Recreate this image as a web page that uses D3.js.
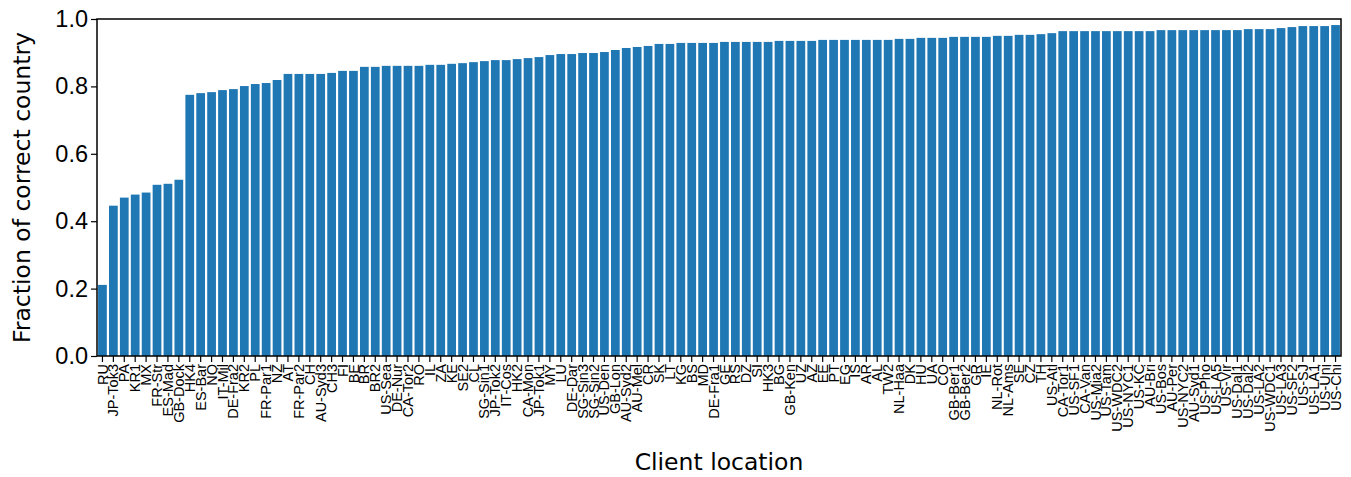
<!DOCTYPE html>
<html>
<head>
<meta charset="utf-8">
<script src="https://cdn.jsdelivr.net/npm/d3@7"></script>
<style>
  body { margin: 0; background: #fff; }
  svg { font-family: "DejaVu Sans", sans-serif; }
</style>
</head>
<body>
<div id="chart"></div>
<script>
// Client locations, sorted by fraction
const locations = [
  "RU", "JP-Tok3", "PA", "KR1", "MX", "FR-Str", "ES-Mad", "GB-Dock", "HK4", "ES-Bar",
  "NO", "IT-Mil", "DE-Fra2", "KR2", "PL", "FR-Par1", "NZ", "AT", "FR-Par2", "CH",
  "AU-Syd3", "CH3", "FI", "BE", "BR", "BR2", "US-Sea", "DE-Nur", "CA-Tor2", "RO",
  "IL", "ZA", "KE", "SE2", "CL", "SG-Sin1", "JP-Tok2", "IT-Cos", "HK2", "CA-Mon",
  "JP-Tok1", "MY", "LU", "DE-Dar", "SG-Sin3", "SG-Sin2", "US-Den", "GB-Lon", "AU-Syd2", "AU-Mel",
  "CR", "SK", "LT", "KG", "BS", "MD", "DE-Fra1", "GE", "RS", "DZ",
  "SI", "HK3", "BG", "GB-Ken", "UZ", "AZ", "EE", "PT", "EG", "IS",
  "AR", "AL", "TW2", "NL-Haa", "DK", "HU", "UA", "CO", "GB-Ber1", "GB-Ber2",
  "GR", "IE", "NL-Rot", "NL-Ams", "SE", "CZ", "TH", "US-Atl", "CA-Tor1", "US-SF1",
  "CA-Van", "US-Mia2", "US-Tam", "US-WDC2", "US-NYC1", "US-KC", "AU-Bri", "US-Bos", "AU-Per", "US-NYC2",
  "AU-Syd1", "US-Pho", "US-LA5", "US-Vir", "US-Dal1", "US-Dal2", "US-LA2", "US-WDC1", "US-LA3", "US-SF2",
  "US-SJ", "US-LA1", "US-Uni", "US-Chi"
];

const fractions = [
  0.211, 0.446, 0.470, 0.479, 0.485, 0.508, 0.511, 0.523, 0.775, 0.780,
  0.783, 0.789, 0.792, 0.801, 0.807, 0.810, 0.819, 0.837, 0.837, 0.837,
  0.837, 0.840, 0.846, 0.846, 0.858, 0.858, 0.861, 0.861, 0.861, 0.861,
  0.864, 0.864, 0.867, 0.869, 0.872, 0.875, 0.878, 0.878, 0.881, 0.884,
  0.887, 0.893, 0.896, 0.896, 0.899, 0.899, 0.902, 0.908, 0.914, 0.917,
  0.920, 0.926, 0.926, 0.929, 0.929, 0.929, 0.929, 0.932, 0.932, 0.932,
  0.932, 0.932, 0.935, 0.935, 0.935, 0.935, 0.938, 0.938, 0.938, 0.938,
  0.938, 0.938, 0.938, 0.941, 0.941, 0.944, 0.944, 0.944, 0.947, 0.947,
  0.947, 0.947, 0.950, 0.950, 0.953, 0.953, 0.955, 0.958, 0.964, 0.964,
  0.964, 0.964, 0.964, 0.964, 0.964, 0.964, 0.964, 0.967, 0.967, 0.967,
  0.967, 0.967, 0.967, 0.967, 0.967, 0.970, 0.970, 0.970, 0.973, 0.976,
  0.979, 0.979, 0.979, 0.982
];

const yTicks = [0.0, 0.2, 0.4, 0.6, 0.8, 1.0];

const width = 1351, height = 477;
const margin = { top: 19, right: 10, bottom: 121, left: 97 };
const plotW = width - margin.left - margin.right;
const plotH = height - margin.top - margin.bottom;

const svg = d3.select("#chart")
  .append("svg")
  .attr("width", width)
  .attr("height", height);

const g = svg.append("g")
  .attr("transform", `translate(${margin.left},${margin.top})`);

// Scales
const x = d3.scaleBand()
  .domain(locations)
  .range([0, plotW])
  .paddingInner(0.2)
  .paddingOuter(0.1);

const y = d3.scaleLinear()
  .domain([0, 1])
  .range([plotH, 0]);

// Bars
g.selectAll(".bar")
  .data(locations)
  .enter()
  .append("rect")
  .attr("class", "bar")
  .attr("x", d => x(d))
  .attr("width", x.bandwidth())
  .attr("y", (d, i) => y(fractions[i]))
  .attr("height", (d, i) => plotH - y(fractions[i]))
  .attr("fill", "#1f77b4");

// X axis
const xAxis = g.append("g")
  .attr("transform", `translate(0,${plotH})`)
  .call(d3.axisBottom(x).tickSize(6).tickSizeOuter(0));
xAxis.select(".domain").remove();
xAxis.selectAll(".tick line").attr("stroke", "#000").attr("stroke-width", 1.2);
xAxis.selectAll(".tick text")
  .attr("font-size", "14.5px")
  .attr("fill", "#000")
  .attr("text-anchor", "end")
  .attr("transform", "rotate(-90)")
  .attr("x", -8)
  .attr("y", 0)
  .attr("dy", "0.35em");

// Y axis
const yAxis = g.append("g")
  .call(d3.axisLeft(y).tickValues(yTicks).tickFormat(d3.format(".1f")).tickSize(6).tickSizeOuter(0));
yAxis.select(".domain").remove();
yAxis.selectAll(".tick line").attr("stroke", "#000").attr("stroke-width", 1.2);
yAxis.selectAll(".tick text")
  .attr("font-size", "23.5px")
  .attr("fill", "#000")
  .attr("x", -9);

// Frame
g.append("rect")
  .attr("x", 0)
  .attr("y", 0)
  .attr("width", plotW)
  .attr("height", plotH)
  .attr("fill", "none")
  .attr("stroke", "#000")
  .attr("stroke-width", 1.5);

// Axis labels
svg.append("text")
  .attr("x", margin.left + plotW / 2)
  .attr("y", 470)
  .attr("text-anchor", "middle")
  .attr("font-size", "23.5px")
  .text("Client location");

svg.append("text")
  .attr("transform", `translate(30,${margin.top + plotH / 2}) rotate(-90)`)
  .attr("text-anchor", "middle")
  .attr("font-size", "23.5px")
  .text("Fraction of correct country");
</script>
</body>
</html>
